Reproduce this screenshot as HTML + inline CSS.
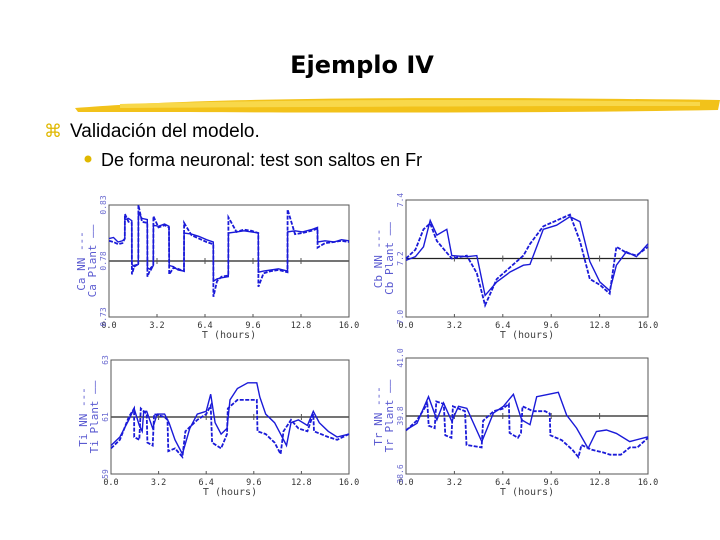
<!DOCTYPE html>
<html><head><meta charset="utf-8"><style>
body{margin:0;background:#fff;}
svg{display:block;}
.tt{font-family:"Liberation Sans",sans-serif;}
.mono{font-family:"DejaVu Sans Mono","Liberation Mono",monospace;}
</style></head><body>
<svg id="s" width="720" height="540" viewBox="0 0 720 540">
<text x="362" y="73" text-anchor="middle" font-family="DejaVu Sans, sans-serif" font-size="24" font-weight="bold" fill="#000">Ejemplo IV</text>
<g>
<path d="M75,108 C200,98 400,96 720,100 L718,110 C500,114 250,112 78,112 Z" fill="#f2c21a"/>
<path d="M120,104 C300,99 500,99 700,102 L700,106 C500,106 300,107 120,108 Z" fill="#f8d84a"/>
</g>
<text x="44" y="137" class="tt" font-size="18" fill="#e0b800">⌘</text>
<text x="70" y="137" class="tt" font-size="19" fill="#000">Validación del modelo.</text>
<circle cx="88" cy="159" r="3.5" fill="#e0b800"/>
<text x="101" y="166" class="tt" font-size="18" fill="#000">De forma neuronal: test son saltos en Fr</text>
<g id="charts"></g>
</svg>
<script>
// ---- Ca chart ----
const caTimes=[0,0.3,0.6,0.9,1.05,1.06,1.3,1.52,1.53,1.7,1.95,1.96,2.2,2.55,2.56,2.8,2.95,2.96,3.3,3.7,4.0,4.01,4.3,4.6,5.0,5.01,5.5,6.0,6.5,6.95,6.96,7.2,7.5,7.95,7.96,8.5,9.0,9.5,9.95,9.96,10.3,10.8,11.3,11.9,11.91,12.4,12.9,13.5,13.9,13.91,14.4,15.0,15.5,16];
const caPlant=[.800,.801,.797,.798,.800,.817,.818,.816,.777,.775,.777,.823,.818,.817,.774,.772,.776,.812,.811,.813,.811,.776,.775,.772,.771,.805,.804,.802,.799,.797,.762,.764,.765,.766,.805,.806,.807,.806,.805,.770,.771,.772,.773,.771,.806,.807,.806,.808,.810,.797,.798,.797,.799,.798];
const caNN=[.798,.797,.795,.796,.800,.822,.815,.814,.768,.776,.777,.830,.815,.814,.766,.774,.776,.820,.810,.812,.810,.768,.774,.773,.771,.814,.803,.800,.797,.795,.748,.762,.766,.767,.819,.806,.808,.807,.805,.757,.769,.771,.772,.770,.826,.804,.805,.807,.809,.792,.796,.797,.798,.797];
const caTicks=["0.73","0.78","0.83"];
// ---- Cb chart ----
const cbTimes=[0,0.62,1.16,1.6,2.04,2.7,3.03,4.02,4.68,5.23,6.0,6.88,7.76,8.2,9.08,9.96,10.84,11.5,12.15,12.81,13.47,13.91,14.57,15.23,16];
const cbPlant=[7.194,7.206,7.24,7.33,7.28,7.30,7.21,7.206,7.21,7.074,7.12,7.154,7.177,7.18,7.30,7.314,7.343,7.326,7.19,7.12,7.09,7.177,7.223,7.206,7.25];
const cbNN=[7.20,7.23,7.30,7.32,7.26,7.22,7.20,7.21,7.15,7.04,7.13,7.17,7.21,7.25,7.31,7.33,7.35,7.26,7.13,7.11,7.08,7.24,7.22,7.21,7.24];
const cbTicks=["7.0","7.2","7.4"];
// ---- Ti chart ----
const tiPlantTimes=[0,0.6,1.2,1.55,1.9,2.1,2.2,2.4,2.8,3.1,3.6,3.9,4.3,4.8,5.3,5.8,6.4,6.7,7.0,7.4,7.8,8.0,8.5,9.2,9.8,10.0,10.4,11.0,11.4,11.8,12.1,12.6,13.2,13.6,14.0,14.6,15.2,16];
const tiPlant=[60.0,60.3,60.9,61.3,60.7,60.5,61.2,61.2,60.6,61.1,61.1,60.8,60.2,59.7,60.6,61.1,61.2,61.8,60.8,60.4,60.6,61.6,62.0,62.2,62.2,61.7,61.1,60.8,60.4,60.0,60.8,60.9,60.7,61.2,60.8,60.5,60.3,60.4];
const tiNNTimes=[0,0.6,1.2,1.55,1.56,1.9,2.0,2.4,2.45,2.8,2.9,3.6,3.8,3.85,4.3,4.8,5.0,5.8,6.4,6.7,6.8,7.4,7.8,7.85,8.5,9.2,9.8,9.85,10.4,11.0,11.4,11.6,12.1,12.6,13.2,13.6,13.65,14.6,15.2,16];
const tiNN=[59.9,60.2,61.0,61.3,60.3,60.2,61.3,61.1,60.1,60.0,61.1,61.0,60.9,59.8,59.9,59.6,60.5,60.9,61.1,61.4,60.1,59.9,60.4,61.3,61.6,61.6,61.6,60.5,60.4,60.1,59.7,60.5,60.9,60.6,60.5,61.1,60.5,60.3,60.2,60.4];
const tiTicks=["59","61","63"];
// ---- Tr chart ----
const trPlantTimes=[0,0.73,1.49,2.04,2.48,3.03,3.47,4.02,5.01,5.78,6.44,7.1,7.65,8.2,8.64,9.3,10.07,10.62,11.28,12.04,12.59,13.25,13.91,14.79,16];
const trPlant=[39.51,39.65,40.2,39.72,40.07,39.69,40.0,39.96,39.27,39.86,40.0,40.25,39.72,39.62,40.2,40.24,40.29,39.82,39.55,39.13,39.48,39.51,39.44,39.27,39.37];
const trNNTimes=[0,0.7,1.3,1.4,1.5,1.9,2.0,2.5,2.6,3.0,3.1,3.9,4.0,5.0,5.1,5.8,6.4,6.8,6.85,7.4,7.6,7.7,8.4,9.2,9.5,9.55,10.3,11.0,11.4,11.6,12.3,13.0,13.5,14.2,14.8,15.3,16];
const trNN=[39.5,39.7,40.0,40.1,39.6,39.55,40.1,40.05,39.4,39.35,40.0,39.9,39.2,39.15,39.7,39.9,39.95,40.05,39.45,39.35,39.45,40.0,39.9,39.9,39.85,39.4,39.3,39.1,38.95,39.2,39.1,39.05,39.0,39.0,39.15,39.15,39.35];
const trTicks=["38.6","39.8","41.0"];
const xTicks=["0.0","3.2","6.4","9.6","12.8","16.0"];

const NS="http://www.w3.org/2000/svg";
const root=document.getElementById('charts');
function mk(tag,attrs,parent){const e=document.createElementNS(NS,tag);for(const k in attrs)e.setAttribute(k,attrs[k]);parent.appendChild(e);return e;}

function drawChart(name,box,ymin,ymax,yTicks,series,labNN,labPlant){
  const g=mk('g',{},root);
  
  
  const X=t=>box.x0+(t/16)*(box.x1-box.x0);
  const Y=v=>box.y1-(v-ymin)/(ymax-ymin)*(box.y1-box.y0);
  const frame=mk('rect',{x:box.x0,y:box.y0,width:box.x1-box.x0,height:box.y1-box.y0,fill:'none',stroke:'#555','stroke-width':1},g);
  
  
  const mid=(ymin+ymax)/2;
  const ml=mk('line',{x1:box.x0,x2:box.x1,y1:Y(mid),y2:Y(mid),stroke:'#222','stroke-width':1.2},g);
  
  
  xTicks.forEach((lab,i)=>{
    const x=X(i*3.2);
    mk('line',{x1:x,x2:x,y1:box.y1,y2:box.y1-3,stroke:'#555'},g);
    mk('line',{x1:x,x2:x,y1:Y(mid)-3,y2:Y(mid)+3,stroke:'#555'},g);
    const t=mk('text',{x:x,y:box.y1+11,'text-anchor':'middle','font-size':8.5,fill:'#333',class:'mono'},g);
    t.textContent=lab;
    
    
  });
  const xt=mk('text',{x:(box.x0+box.x1)/2,y:box.y1+21,'text-anchor':'middle','font-size':10,fill:'#444',class:'mono'},g);
  xt.textContent='T (hours)';
  
  
  yTicks.forEach((lab,i)=>{
    const v=ymin+i*(ymax-ymin)/2;
    const y=Y(v);
    const t=mk('text',{x:0,y:0,'text-anchor':'middle','font-size':8,fill:'#6a6ad0',class:'mono',transform:`translate(${box.x0-3},${y}) rotate(-90)`},g);
    t.textContent=lab;
    
    
  });
  const cy=(box.y0+box.y1)/2;
  const l1=mk('text',{x:0,y:0,'text-anchor':'middle','font-size':11,fill:'#5a5ad0',class:'mono',transform:`translate(${box.x0-24},${cy}) rotate(-90)`},g);
  l1.textContent=labNN+' ---';
  
  
  const l2=mk('text',{x:0,y:0,'text-anchor':'middle','font-size':11,fill:'#5a5ad0',class:'mono',transform:`translate(${box.x0-13},${cy}) rotate(-90)`},g);
  l2.textContent=labPlant+' \u2014\u2014';
  
  
  series.forEach(s=>{
    const pts=s.t.map((t,i)=>X(t).toFixed(1)+','+Y(s.v[i]).toFixed(1)).join(' ');
    const p=mk('polyline',{points:pts,fill:'none',stroke:'#1a1ad8','stroke-width':s.dash?1.8:1.4,'stroke-dasharray':s.dash?'4,1.5':'none'},g);
    
    
  });
}
drawChart('chart-ca',{x0:109,x1:349,y0:205,y1:317},0.73,0.83,caTicks,
  [{t:caTimes,v:caPlant,name:'series-ca-plant'},{t:caTimes,v:caNN,dash:true,name:'series-ca-nn'}],'Ca NN','Ca Plant');
drawChart('chart-cb',{x0:406,x1:648,y0:200,y1:317},7.0,7.4,cbTicks,
  [{t:cbTimes,v:cbPlant,name:'series-cb-plant'},{t:cbTimes,v:cbNN,dash:true,name:'series-cb-nn'}],'Cb NN','Cb Plant');
drawChart('chart-ti',{x0:111,x1:349,y0:360,y1:474},59,63,tiTicks,
  [{t:tiPlantTimes,v:tiPlant,name:'series-ti-plant'},{t:tiNNTimes,v:tiNN,dash:true,name:'series-ti-nn'}],'Ti NN','Ti Plant');
drawChart('chart-tr',{x0:406,x1:648,y0:358,y1:474},38.6,41.0,trTicks,
  [{t:trPlantTimes,v:trPlant,name:'series-tr-plant'},{t:trNNTimes,v:trNN,dash:true,name:'series-tr-nn'}],'Tr NN','Tr Plant');
</script>
</body></html>
